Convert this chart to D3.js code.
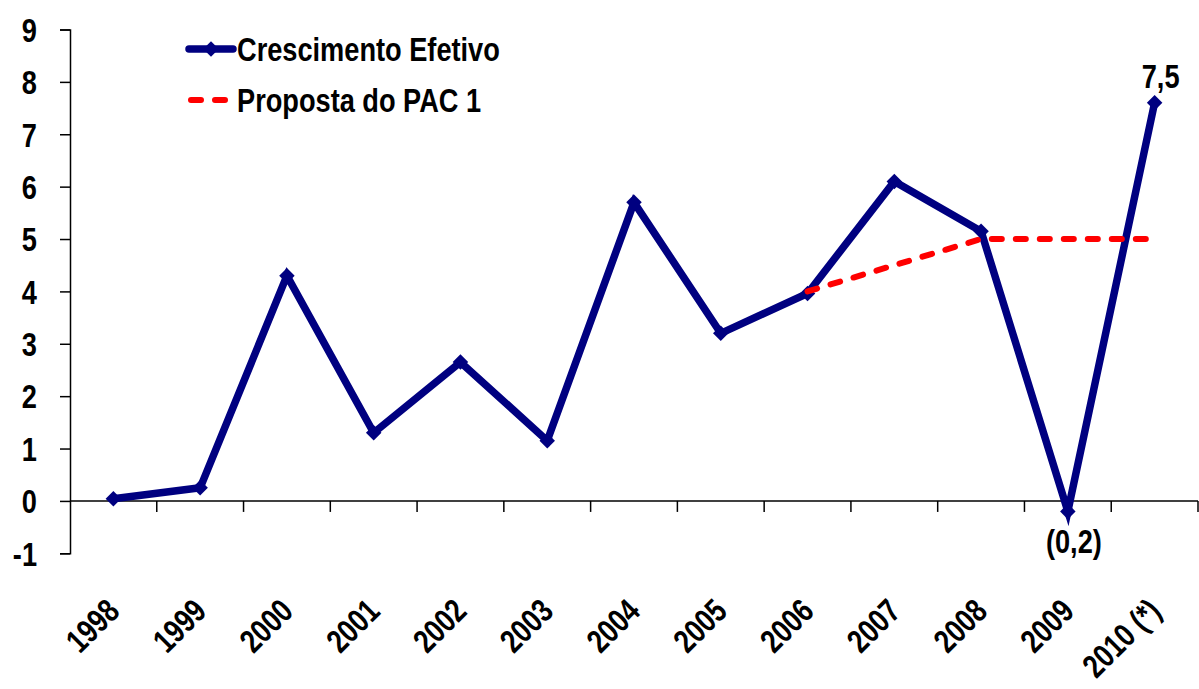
<!DOCTYPE html>
<html>
<head>
<meta charset="utf-8">
<script src="https://cdn.jsdelivr.net/npm/d3@7"></script>
<style>
  body { margin: 0; background: #fff; }
  svg text { font-family: "Liberation Sans", Arial, sans-serif; font-weight: bold; fill: #000; }
</style>
</head>
<body>
<svg id="chart" width="1199" height="689"></svg>
<script>
// categories and values
var years = ["1998", "1999", "2000", "2001", "2002", "2003", "2004", "2005", "2006", "2007", "2008", "2009", "2010 (*)"];
var efetivo = [0.04, 0.25, 4.3, 1.3, 2.65, 1.15, 5.7, 3.2, 3.96, 6.1, 5.15, -0.2, 7.6];
var pac = [null, null, null, null, null, null, null, null, 4, 4.5, 5, 5, 5];
var yTicks = [-1, 0, 1, 2, 3, 4, 5, 6, 7, 8, 9];
var pointLabels = [{i: 11, text: "(0,2)", pos: "below"}, {i: 12, text: "7,5", pos: "above"}];

var NARROW = 0.8; // fake an Arial Narrow look

var svg = d3.select("#chart");

var x = d3.scaleBand().domain(years).range([70, 1198]);
var y = d3.scaleLinear().domain([-1, 9]).range([553.3, 29.5]);

// y axis
var yAxis = svg.append("g")
  .attr("transform", "translate(70,0)")
  .call(d3.axisLeft(y).tickValues(yTicks).tickSize(10).tickFormat(""));
yAxis.select(".domain").attr("stroke", "#000").attr("stroke-width", 1.5);
yAxis.selectAll(".tick line").attr("stroke", "#000").attr("stroke-width", 1.5);

svg.append("g").selectAll("text")
  .data(yTicks)
  .enter().append("text")
  .attr("text-anchor", "end")
  .attr("font-size", 34)
  .attr("dy", "0.36em")
  .attr("transform", function(d) { return "translate(37," + y(d) + ") scale(" + NARROW + ",1)"; })
  .text(function(d) { return d; });

// x axis at zero, ticks between categories
var xAxis = svg.append("g").attr("transform", "translate(0," + y(0) + ")");
xAxis.append("line").attr("x1", 70).attr("x2", 1198).attr("stroke", "#000").attr("stroke-width", 1.5);
xAxis.selectAll(".xt")
  .data(years)
  .enter().append("line")
  .attr("class", "xt")
  .attr("x1", function(d) { return x(d) + x.bandwidth(); })
  .attr("x2", function(d) { return x(d) + x.bandwidth(); })
  .attr("y1", 0).attr("y2", 11)
  .attr("stroke", "#000").attr("stroke-width", 1.5);

svg.append("g").selectAll("text")
  .data(years)
  .enter().append("text")
  .attr("text-anchor", "end")
  .attr("font-size", 33)
  .attr("transform", function(d) {
    return "translate(" + (x(d) + x.bandwidth() / 2 + 8) + ",613) rotate(-45) scale(" + NARROW + ",1)";
  })
  .text(function(d) { return d; });

function cx(i) { return x(years[i]) + x.bandwidth() / 2; }

// series
var line = d3.line()
  .defined(function(d) { return d != null; })
  .x(function(d, i) { return cx(i); })
  .y(function(d) { return y(d); });

svg.append("path")
  .datum(efetivo)
  .attr("d", line)
  .attr("fill", "none")
  .attr("stroke", "#000080")
  .attr("stroke-width", 7.5)
  .attr("stroke-linejoin", "miter");

var marker = d3.symbol().type(d3.symbolSquare).size(120);
svg.append("g").selectAll("path")
  .data(efetivo)
  .enter().append("path")
  .attr("d", marker)
  .attr("transform", function(d, i) { return "translate(" + cx(i) + "," + y(d) + ") rotate(45)"; })
  .attr("fill", "#000080");

svg.append("path")
  .datum(pac)
  .attr("d", line)
  .attr("fill", "none")
  .attr("stroke", "#ff0000")
  .attr("stroke-width", 6)
  .attr("stroke-linecap", "round")
  .attr("stroke-dasharray", "10,14");

// value labels
svg.append("g").selectAll("text")
  .data(pointLabels)
  .enter().append("text")
  .attr("text-anchor", "middle")
  .attr("font-size", 34)
  .attr("transform", function(d) {
    var ty = d.pos == "above" ? y(efetivo[d.i]) - 15 : y(efetivo[d.i]) + 42;
    return "translate(" + (cx(d.i) + 6) + "," + ty + ") scale(" + NARROW + ",1)";
  })
  .text(function(d) { return d.text; });

// legend
var legend = svg.append("g");
legend.append("line").attr("x1", 189).attr("x2", 233).attr("y1", 49).attr("y2", 49)
  .attr("stroke", "#000080").attr("stroke-width", 7.5).attr("stroke-linecap", "round");
legend.append("path").attr("d", marker).attr("transform", "translate(211,49) rotate(45)").attr("fill", "#000080");
legend.append("text").attr("transform", "translate(237,61) scale(" + NARROW + ",1)").attr("font-size", 34).text("Crescimento Efetivo");
legend.append("line").attr("x1", 191).attr("x2", 230).attr("y1", 100).attr("y2", 100)
  .attr("stroke", "#ff0000").attr("stroke-width", 6).attr("stroke-linecap", "round").attr("stroke-dasharray", "10,14");
legend.append("text").attr("transform", "translate(237,112) scale(" + NARROW + ",1)").attr("font-size", 34).text("Proposta do PAC 1");
</script>
</body>
</html>
